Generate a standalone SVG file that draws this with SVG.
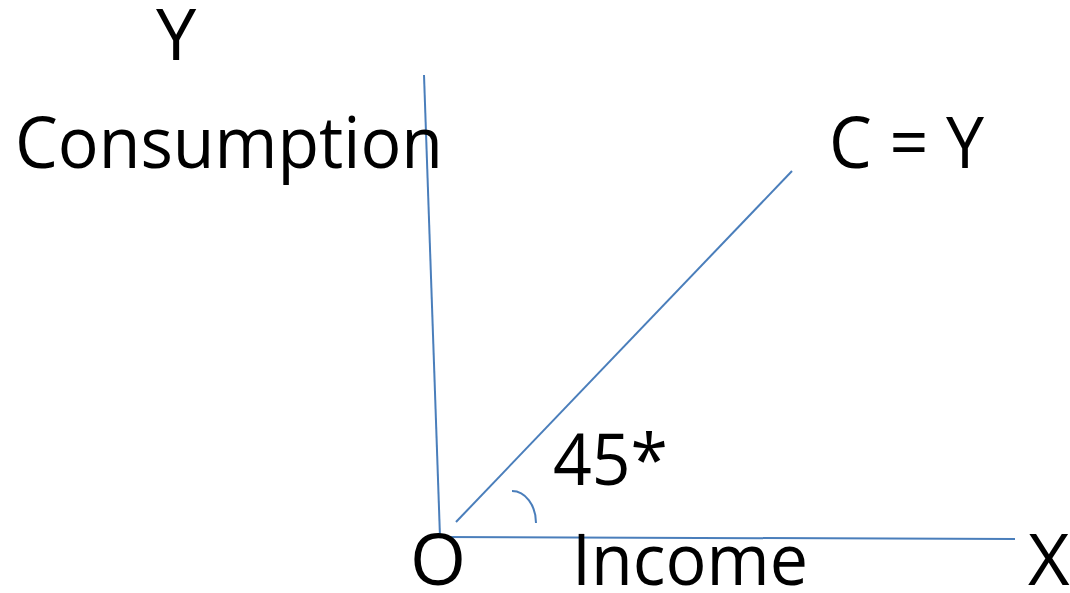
<svg xmlns="http://www.w3.org/2000/svg" width="1070" height="593" viewBox="0 0 1070 593">
<style>
.t{font-family:"Open Sans","Liberation Sans",sans-serif;font-size:72px;fill:#000}
.l{stroke:#4a7ebb;stroke-width:2;fill:none}
</style>
<rect width="1070" height="593" fill="#fff"/>
<g id="connectors">
<line class="l" x1="424" y1="75" x2="440" y2="537"/>
<line class="l" x1="440" y1="537" x2="1015" y2="539"/>
<line class="l" x1="456" y1="522" x2="792" y2="171"/>
<path class="l" d="M512 491 A24 32 0 0 1 536 523"/>
</g>
<g id="label-y"><text class="t" x="156" y="60">Y</text></g>
<g id="label-consumption"><text class="t" x="15" y="168" textLength="428" lengthAdjust="spacingAndGlyphs">Consumption</text></g>
<g id="label-cy"><text class="t" x="829" y="168" textLength="155" lengthAdjust="spacingAndGlyphs">C = Y</text></g>
<g id="label-45"><text class="t" x="553" y="485" textLength="115" lengthAdjust="spacingAndGlyphs">45*</text></g>
<g id="label-o"><text class="t" x="410" y="585">O</text></g>
<g id="label-income"><text class="t" x="572" y="585" textLength="236" lengthAdjust="spacingAndGlyphs">Income</text></g>
<g id="label-x"><text class="t" x="1028" y="585">X</text></g>
</svg>
